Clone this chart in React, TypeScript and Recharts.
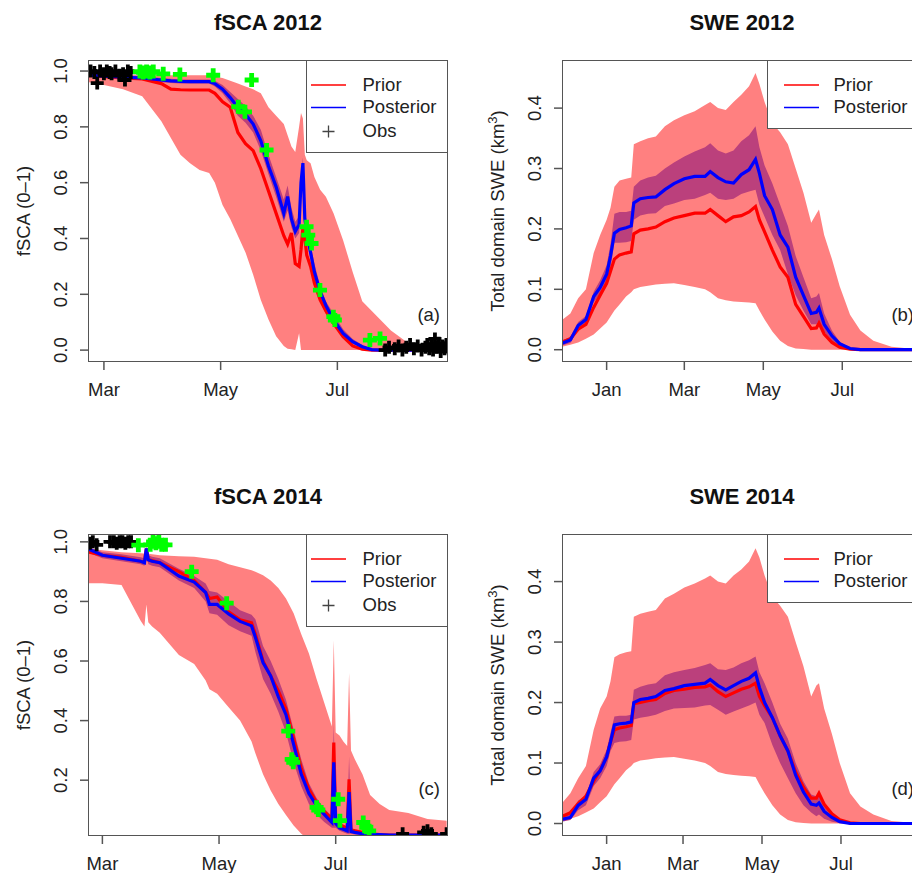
import React from 'react';
import { ComposedChart, Area, Line, Scatter, XAxis, YAxis } from 'recharts';

const FONT = '"Liberation Sans", Arial, Helvetica, sans-serif';
const PRIOR_BAND = '#FF8080';
const POST_BAND = '#BB407C';
const AXIS = '#555';

// ---- fSCA 2012 (days since 1 Mar) ----
const dayA = [
  -8, 0, 10, 20, 30, 35, 40, 45, 50, 55,
  58, 62, 66, 70, 74, 78, 82, 86, 90, 94,
  96, 98, 100, 102, 103, 104, 105, 106, 108, 110,
  113, 116, 120, 125, 130, 135, 140, 145, 150, 160,
  170, 179,
];
const priorLoA = [
  0.96, 0.95, 0.935, 0.91, 0.82, 0.76, 0.70, 0.67, 0.645, 0.635,
  0.60, 0.52, 0.47, 0.41, 0.35, 0.27, 0.18, 0.11, 0.05, 0.015,
  0.005, 0.003, 0, 0.06, 0, 0, 0, 0, 0, 0,
  0, 0, 0, 0, 0, 0, 0, 0, 0, 0,
  0, 0,
];
const priorHiA = [
  0.985, 0.985, 0.985, 0.985, 0.985, 0.985, 0.985, 0.985, 0.985, 0.985,
  0.98, 0.975, 0.965, 0.955, 0.945, 0.935, 0.92, 0.87, 0.84, 0.81,
  0.77, 0.73, 0.71, 0.80, 0.85, 0.83, 0.70, 0.68, 0.67, 0.62,
  0.575, 0.55, 0.49, 0.394, 0.28, 0.175, 0.14, 0.105, 0.07, 0.02,
  0.01, 0.006,
];
const priorA = [
  0.985, 0.98, 0.975, 0.972, 0.955, 0.935, 0.933, 0.932, 0.932, 0.932,
  0.92, 0.89, 0.87, 0.78, 0.74, 0.715, 0.65, 0.57, 0.49, 0.41,
  0.38, 0.42, 0.31, 0.30, 0.36, 0.44, 0.40, 0.34, 0.30, 0.24,
  0.18, 0.14, 0.096, 0.048, 0.015, 0.003, 0, 0, 0, 0,
  0, 0,
];
const postLoA = [
  0.98, 0.976, 0.97, 0.968, 0.96, 0.957, 0.955, 0.955, 0.955, 0.955,
  0.945, 0.92, 0.885, 0.84, 0.815, 0.78, 0.715, 0.63, 0.55, 0.46,
  0.5, 0.44, 0.4, 0.42, 0.55, 0.63, 0.44, 0.39, 0.32, 0.25,
  0.175, 0.13, 0.09, 0.048, 0.022, 0.008, 0, 0, 0, 0,
  0, 0,
];
const postHiA = [
  0.99, 0.988, 0.985, 0.982, 0.975, 0.972, 0.97, 0.97, 0.97, 0.97,
  0.965, 0.95, 0.925, 0.9, 0.875, 0.84, 0.79, 0.7, 0.62, 0.54,
  0.59, 0.51, 0.46, 0.48, 0.62, 0.69, 0.5, 0.45, 0.38, 0.31,
  0.23, 0.175, 0.13, 0.075, 0.04, 0.018, 0.005, 0.002, 0.001, 0,
  0, 0,
];
const postA = [
  0.985, 0.982, 0.978, 0.975, 0.968, 0.965, 0.963, 0.962, 0.962, 0.962,
  0.955, 0.935, 0.905, 0.87, 0.845, 0.81, 0.75, 0.66, 0.585, 0.49,
  0.55, 0.47, 0.425, 0.45, 0.60, 0.67, 0.47, 0.42, 0.35, 0.28,
  0.21, 0.16, 0.108, 0.06, 0.03, 0.012, 0.002, 0, 0, 0,
  0, 0,
];
const obsDayA = [
  -7, -5, -3.5, -2, 0, 1.5, 3, 4, 6, 8, 10, 11, 12.5, 14,
  147, 149, 152, 154, 156, 158, 160, 162, 164, 166,
  168, 169, 170, 171, 172, 173, 174, 175, 176, 177, 178, 179,
];
const obsValA = [
  1.0, 0.995, 0.957, 1.0, 0.99, 1.0, 0.995, 0.99, 1.0, 0.985, 0.99, 0.968, 1.0, 0.995,
  0.0, 0.01, 0.005, 0.015, 0.0, 0.01, 0.02, 0.005, 0.015, 0.0,
  0.01, 0.02, 0.005, 0.015, 0.0, 0.04, 0.01, 0.025, -0.005, 0.015, 0.005, 0.02,
];
const greenDayA = [18.8, 20.5, 22.3, 24, 25.8, 31, 39.7, 57.1, 70.2, 73.7, 77.2, 85, 105.9, 106.8, 108.5, 112.9, 119.9, 120.7, 139, 144.3];
const greenValA = [0.998, 0.995, 0.998, 0.995, 0.998, 0.99, 0.988, 0.985, 0.872, 0.854, 0.968, 0.717, 0.442, 0.412, 0.382, 0.215, 0.12, 0.108, 0.036, 0.042];

// ---- fSCA 2014 (days since 1 Mar) ----
const dayC = [
  -8, 0, 10, 20, 22, 23, 24, 26, 30, 40,
  48, 54, 56, 60, 66, 72, 78, 80, 84, 88,
  92, 96, 100, 104, 108, 112, 116, 120, 121, 122,
  124, 126, 128, 129, 130, 132, 136, 140, 145, 150,
  160, 170, 180,
];
const priorHiC = [
  0.978, 0.972, 0.965, 0.962, 0.961, 0.961, 0.96, 0.958, 0.955, 0.952,
  0.95, 0.945, 0.943, 0.94, 0.925, 0.915, 0.905, 0.90, 0.888, 0.87,
  0.845, 0.81, 0.76, 0.69, 0.625, 0.54, 0.46, 0.38, 0.67, 0.36,
  0.35, 0.33, 0.315, 0.56, 0.3, 0.27, 0.22, 0.15, 0.12, 0.10,
  0.09, 0.07, 0.064,
];
const priorLoC = [
  0.861, 0.861, 0.855, 0.735, 0.716, 0.79, 0.73, 0.716, 0.695, 0.62,
  0.59, 0.535, 0.505, 0.49, 0.445, 0.40, 0.33, 0.29, 0.22, 0.165,
  0.12, 0.083, 0.048, 0.02, 0, 0, 0, 0, 0, 0,
  0, 0, 0, 0, 0, 0, 0, 0, 0, 0,
  0, 0, 0,
];
const priorC = [
  0.967, 0.955, 0.948, 0.935, 0.933, 0.978, 0.94, 0.937, 0.93, 0.9,
  0.87, 0.83, 0.81, 0.815, 0.765, 0.738, 0.728, 0.69, 0.6, 0.55,
  0.5, 0.44, 0.34, 0.24, 0.17, 0.125, 0.095, 0.07, 0.326, 0.065,
  0.05, 0.045, 0.036, 0.203, 0.035, 0.03, 0.025, 0.02, 0.017, 0.016,
  0.016, 0.016, 0.016,
];
const postC = [
  0.978, 0.955, 0.945, 0.935, 0.93, 0.978, 0.94, 0.935, 0.93, 0.885,
  0.865, 0.83, 0.79, 0.79, 0.758, 0.733, 0.718, 0.68, 0.595, 0.55,
  0.48, 0.42, 0.32, 0.22, 0.155, 0.115, 0.085, 0.058, 0.26, 0.055,
  0.04, 0.035, 0.03, 0.16, 0.028, 0.025, 0.02, 0.018, 0.017, 0.016,
  0.016, 0.016, 0.016,
];
const postHiC = [
  0.985, 0.965, 0.958, 0.948, 0.945, 0.985, 0.955, 0.95, 0.945, 0.91,
  0.885, 0.86, 0.835, 0.83, 0.8, 0.77, 0.755, 0.74, 0.65, 0.6,
  0.54, 0.47, 0.37, 0.27, 0.19, 0.14, 0.105, 0.08, 0.39, 0.075,
  0.06, 0.05, 0.045, 0.28, 0.04, 0.035, 0.028, 0.022, 0.018, 0.017,
  0.017, 0.017, 0.017,
];
const postLoC = [
  0.965, 0.945, 0.935, 0.925, 0.92, 0.96, 0.925, 0.92, 0.915, 0.87,
  0.845, 0.8, 0.76, 0.755, 0.72, 0.7, 0.685, 0.63, 0.54, 0.49,
  0.43, 0.36, 0.26, 0.18, 0.12, 0.085, 0.06, 0.04, 0.04, 0.04,
  0.03, 0.025, 0.02, 0.02, 0.02, 0.018, 0.016, 0.015, 0.015, 0.015,
  0.015, 0.015, 0.015,
];
const obsDayC = [-6.5, -5, -3, 4, 6, 7.5, 9, 10.5, 12, 13.5, 15, 157, 168, 170, 172, 180];
const obsValC = [0.995, 1.0, 0.99, 1.0, 1.0, 0.995, 1.0, 1.0, 0.995, 1.0, 1.0, 0.02, 0.025, 0.03, 0.02, 0.02];
const greenDayC = [18.8, 25, 26.5, 28, 29.5, 31, 33, 46.7, 65, 97.2, 99, 99.8, 112, 112.9, 123.3, 124.2, 136.4, 138, 139.5];
const greenValC = [0.989, 0.99, 1.0, 0.995, 1.0, 0.99, 0.99, 0.90, 0.794, 0.365, 0.27, 0.26, 0.109, 0.1, 0.136, 0.064, 0.058, 0.042, 0.03];

// ---- SWE (days since 1 Jan) ----
const daySwe = [
  -34, -28, -22, -16, -10, -5, 0, 3, 6, 10,
  15, 19, 21, 26, 32, 38, 45, 52, 60, 68,
  76, 80, 86, 92, 98, 104, 110, 115, 118, 122,
  128, 134, 140, 146, 152, 158, 162, 164, 168, 174,
  180, 188, 196, 206, 220, 243,
];
const priorLoB = [
  0.005, 0.008, 0.012, 0.018, 0.025, 0.035, 0.045, 0.055, 0.065, 0.075,
  0.088, 0.095, 0.10, 0.104, 0.106, 0.108, 0.109, 0.11, 0.107, 0.104,
  0.10, 0.095, 0.085, 0.082, 0.08, 0.079, 0.078, 0.077, 0.065, 0.05,
  0.03, 0.015, 0.006, 0.002, 0.001, 0, 0, 0, 0, 0,
  0, 0, 0, 0, 0, 0,
];
const priorHiB = [
  0.05, 0.06, 0.085, 0.10, 0.16, 0.19, 0.215, 0.235, 0.27, 0.28,
  0.283, 0.285, 0.34, 0.345, 0.35, 0.353, 0.37, 0.38, 0.388, 0.395,
  0.405, 0.41, 0.40, 0.397, 0.41, 0.422, 0.436, 0.458, 0.44, 0.41,
  0.375, 0.36, 0.34, 0.30, 0.26, 0.21, 0.225, 0.232, 0.19, 0.15,
  0.105, 0.058, 0.032, 0.015, 0.005, 0,
];
const priorB = [
  0.013, 0.018, 0.034, 0.042, 0.07, 0.09, 0.11, 0.13, 0.15, 0.157,
  0.16, 0.162, 0.192, 0.198, 0.2, 0.203, 0.212, 0.218, 0.222, 0.226,
  0.226, 0.232, 0.222, 0.212, 0.22, 0.222, 0.228, 0.237, 0.215, 0.195,
  0.165, 0.137, 0.12, 0.075, 0.055, 0.035, 0.036, 0.044, 0.026, 0.012,
  0.004, 0.001, 0, 0, 0, 0,
];
const postB = [
  0.011, 0.016, 0.04, 0.05, 0.088, 0.103, 0.125, 0.155, 0.193, 0.199,
  0.202, 0.205, 0.243, 0.25, 0.252, 0.253, 0.265, 0.275, 0.283, 0.287,
  0.287, 0.295, 0.285, 0.278, 0.276, 0.29, 0.298, 0.315, 0.292, 0.255,
  0.232, 0.19, 0.17, 0.12, 0.09, 0.06, 0.062, 0.069, 0.042, 0.023,
  0.01, 0.002, 0, 0, 0, 0,
];
const postHiB = [
  0.016, 0.021, 0.046, 0.056, 0.096, 0.115, 0.14, 0.175, 0.225, 0.228,
  0.228, 0.23, 0.27, 0.28, 0.285, 0.288, 0.30, 0.31, 0.32, 0.328,
  0.335, 0.342, 0.33, 0.325, 0.33, 0.345, 0.355, 0.37, 0.335, 0.305,
  0.275, 0.24, 0.205, 0.155, 0.12, 0.085, 0.088, 0.094, 0.06, 0.032,
  0.013, 0.003, 0, 0, 0, 0,
];
const postLoB = [
  0.007, 0.011, 0.034, 0.044, 0.078, 0.092, 0.11, 0.135, 0.177, 0.177,
  0.178, 0.18, 0.215, 0.222, 0.225, 0.226, 0.238, 0.242, 0.248, 0.25,
  0.256, 0.26, 0.25, 0.248, 0.25, 0.258, 0.262, 0.265, 0.24, 0.22,
  0.19, 0.165, 0.125, 0.09, 0.065, 0.042, 0.042, 0.048, 0.03, 0.014,
  0.005, 0.001, 0, 0, 0, 0,
];
const priorLoD = [
  0.005, 0.008, 0.012, 0.018, 0.025, 0.035, 0.045, 0.055, 0.065, 0.075,
  0.088, 0.095, 0.10, 0.104, 0.106, 0.108, 0.109, 0.11, 0.107, 0.104,
  0.10, 0.095, 0.085, 0.082, 0.08, 0.079, 0.078, 0.077, 0.065, 0.05,
  0.03, 0.015, 0.006, 0.002, 0.001, 0, 0, 0, 0, 0,
  0, 0, 0, 0, 0, 0,
];
const priorHiD = [
  0.035, 0.05, 0.075, 0.095, 0.155, 0.19, 0.21, 0.235, 0.275, 0.28,
  0.283, 0.285, 0.342, 0.347, 0.35, 0.353, 0.372, 0.38, 0.39, 0.397,
  0.405, 0.41, 0.40, 0.397, 0.41, 0.42, 0.433, 0.455, 0.44, 0.41,
  0.375, 0.36, 0.342, 0.30, 0.26, 0.21, 0.228, 0.232, 0.19, 0.148,
  0.10, 0.05, 0.028, 0.015, 0.004, 0,
];
const priorD = [
  0.012, 0.018, 0.033, 0.045, 0.07, 0.088, 0.11, 0.135, 0.155, 0.158,
  0.16, 0.162, 0.198, 0.2, 0.203, 0.205, 0.215, 0.22, 0.222, 0.225,
  0.226, 0.229, 0.218, 0.21, 0.216, 0.222, 0.226, 0.232, 0.21, 0.195,
  0.175, 0.145, 0.12, 0.085, 0.06, 0.042, 0.042, 0.05, 0.032, 0.016,
  0.006, 0.001, 0, 0, 0, 0,
];
const postD = [
  0.007, 0.01, 0.03, 0.04, 0.075, 0.087, 0.11, 0.135, 0.163, 0.165,
  0.166, 0.168, 0.2, 0.205, 0.207, 0.21, 0.22, 0.223, 0.228, 0.23,
  0.232, 0.238, 0.228, 0.221, 0.228, 0.235, 0.24, 0.249, 0.225, 0.2,
  0.175, 0.145, 0.12, 0.08, 0.052, 0.032, 0.03, 0.034, 0.02, 0.01,
  0.003, 0, 0, 0, 0, 0,
];
const postHiD = [
  0.012, 0.016, 0.038, 0.046, 0.085, 0.098, 0.122, 0.15, 0.177, 0.178,
  0.178, 0.18, 0.221, 0.226, 0.23, 0.232, 0.245, 0.25, 0.254, 0.257,
  0.262, 0.265, 0.255, 0.254, 0.258, 0.265, 0.27, 0.276, 0.25, 0.232,
  0.2, 0.165, 0.14, 0.1, 0.07, 0.048, 0.045, 0.05, 0.03, 0.015,
  0.006, 0.001, 0, 0, 0, 0,
];
const postLoD = [
  0.003, 0.006, 0.022, 0.03, 0.062, 0.075, 0.095, 0.12, 0.133, 0.135,
  0.136, 0.138, 0.172, 0.175, 0.177, 0.18, 0.186, 0.19, 0.191, 0.192,
  0.195, 0.196, 0.188, 0.18, 0.185, 0.19, 0.195, 0.2, 0.18, 0.166,
  0.13, 0.1, 0.075, 0.05, 0.03, 0.018, 0.012, 0.015, 0.008, 0.003,
  0.001, 0, 0, 0, 0, 0,
];

const fscaTicks = [0, 61, 122];
const fscaLabels = ['Mar', 'May', 'Jul'];
const swe12Ticks = [0, 60, 121, 182];
const swe14Ticks = [0, 59, 120, 181];
const sweLabels = ['Jan', 'Mar', 'May', 'Jul'];
const fscaYTicks = [0, 0.2, 0.4, 0.6, 0.8, 1.0];
const fsca14YTicks = [0.2, 0.4, 0.6, 0.8, 1.0];
const sweYTicks = [0, 0.1, 0.2, 0.3, 0.4];

function buildRows(days: number[], pLo: number[], pHi: number[], qLo: number[], qHi: number[], p: number[], q: number[]) {
  return days.map((d, i) => ({ d, pb: [pLo[i], pHi[i]], qb: [qLo[i], qHi[i]], p: p[i], q: q[i] }));
}
function buildPoints(days: number[], vals: number[]) {
  return days.map((d, i) => ({ d, v: vals[i] }));
}

// chart geometry (same for every panel)
const CW = 460;
const CH = 420;
const PL = 89;
const PT = 61;
const PW = 358;
const PH = 300;

const plus = (color: string, w: number, r: number) => (props: any) => {
  const { cx, cy } = props;
  if (cx == null || cy == null) return <g />;
  return <path d={`M${cx - r},${cy}H${cx + r}M${cx},${cy - r}V${cy + r}`} stroke={color} strokeWidth={w} fill="none" />;
};

const yTick = (p: any) => {
  const bx = p.x - 11;
  return (
    <text x={bx} y={p.y} transform={`rotate(-90 ${bx} ${p.y})`} textAnchor="middle" fontSize={18.5} fill="#222" fontFamily={FONT}>
      {Number(p.payload.value).toFixed(1)}
    </text>
  );
};

const xTick = (ticks: number[], labels: string[]) => (p: any) => (
  <text x={p.x} y={p.y + 24} textAnchor="middle" fontSize={18.5} fill="#222" fontFamily={FONT}>
    {labels[ticks.indexOf(p.payload.value)]}
  </text>
);

interface LegendBox {
  width: number;
  height: number;
  lineX: number;
  textX: number;
  obs: boolean;
}

function LegendHtml({ left, top, box }: { left: number; top: number; box: LegendBox }) {
  const rows = [
    { label: 'Prior', kind: 'line', color: '#FF0000' },
    { label: 'Posterior', kind: 'line', color: '#0000FF' },
  ];
  if (box.obs) rows.push({ label: 'Obs', kind: 'plus', color: '#444' });
  const centers = [25, 47.5, 71.5];
  return (
    <div
      style={{
        position: 'absolute',
        left,
        top,
        width: box.width,
        height: box.height,
        border: `1.5px solid ${AXIS}`,
        boxSizing: 'border-box',
        background: '#fff',
      }}
    >
      <svg width={box.width} height={box.height} style={{ position: 'absolute', left: -1.5, top: -1.5 }}>
        {rows.map((r, i) =>
          r.kind === 'line' ? (
            <line key={r.label} x1={box.lineX} x2={box.lineX + 35} y1={centers[i]} y2={centers[i]} stroke={r.color} strokeWidth={1.3} />
          ) : (
            <path
              key={r.label}
              d={`M${box.lineX + 11.5},${centers[i]}h12M${box.lineX + 17.5},${centers[i] - 6}v12`}
              stroke={r.color}
              strokeWidth={1.3}
              fill="none"
            />
          ),
        )}
      </svg>
      {rows.map((r, i) => (
        <div
          key={r.label}
          style={{
            position: 'absolute',
            left: box.textX - 1.5,
            top: centers[i] - 11 - 1.5,
            lineHeight: '22px',
            fontSize: 18.5,
            color: '#222',
            whiteSpace: 'nowrap',
          }}
        >
          {r.label}
        </div>
      ))}
    </div>
  );
}

interface PanelProps {
  left: number;
  top: number;
  title: string;
  yLabel: React.ReactNode;
  tag: string;
  rows: any[];
  black?: { d: number; v: number }[];
  green?: { d: number; v: number }[];
  xDomain: [number, number];
  xTicks: number[];
  xLabels: string[];
  yDomain: [number, number];
  yTicks: number[];
  legend: LegendBox;
}

function Panel(props: PanelProps) {
  const { left, top, rows, legend } = props;
  return (
    <>
      <div style={{ position: 'absolute', left, top, width: CW, height: CH }}>
        <ComposedChart width={CW} height={CH} data={rows} margin={{ top: PT, right: CW - PL - PW, bottom: 0, left: 0 }}>
          <XAxis
            type="number"
            dataKey="d"
            domain={props.xDomain}
            allowDataOverflow
            ticks={props.xTicks}
            interval={0}
            height={CH - PT - PH}
            axisLine={false}
            tickSize={9}
            tickMargin={2}
            tickLine={{ stroke: AXIS, strokeWidth: 1.5 }}
            tick={xTick(props.xTicks, props.xLabels)}
          />
          <YAxis
            type="number"
            domain={props.yDomain}
            allowDataOverflow
            ticks={props.yTicks}
            interval={0}
            width={PL}
            axisLine={false}
            tickSize={9}
            tickMargin={2}
            tickLine={{ stroke: AXIS, strokeWidth: 1.5 }}
            tick={yTick}
          />
          <Area type="linear" dataKey="pb" stroke="none" fill={PRIOR_BAND} fillOpacity={1} isAnimationActive={false} />
          <Area type="linear" dataKey="qb" stroke="none" fill={POST_BAND} fillOpacity={1} isAnimationActive={false} />
          <Line type="linear" dataKey="p" stroke="#FF0000" strokeWidth={3.2} dot={false} activeDot={false} isAnimationActive={false} />
          <Line type="linear" dataKey="q" stroke="#0000FF" strokeWidth={3.2} dot={false} activeDot={false} isAnimationActive={false} />
          {props.black && (
            <Scatter data={props.black} dataKey="v" fill="#000" shape={plus('#000', 3.8, 6.5)} isAnimationActive={false} />
          )}
          {props.green && (
            <Scatter data={props.green} dataKey="v" fill="#00FF00" shape={plus('#00FF00', 4.8, 7)} isAnimationActive={false} />
          )}
        </ComposedChart>
      </div>
      <div
        style={{
          position: 'absolute',
          left: left + PL - 1,
          top: top + PT - 1,
          width: PW + 2,
          height: PH + 2,
          border: `1.6px solid ${AXIS}`,
          boxSizing: 'border-box',
          pointerEvents: 'none',
        }}
      />
      <LegendHtml left={left + PL + PW - legend.width + 1} top={top + PT - 1} box={legend} />
      <div
        style={{
          position: 'absolute',
          left: left + PL,
          width: PW,
          top: top + 10,
          textAlign: 'center',
          fontWeight: 'bold',
          fontSize: 22,
          lineHeight: '26px',
          color: '#111',
        }}
      >
        {props.title}
      </div>
      <div
        style={{
          position: 'absolute',
          left: left + 24,
          top: top + PT + PH / 2,
          transform: 'translate(-50%, -50%) rotate(-90deg)',
          fontSize: 18.5,
          lineHeight: '22px',
          whiteSpace: 'nowrap',
          color: '#222',
        }}
      >
        {props.yLabel}
      </div>
      <div
        style={{
          position: 'absolute',
          left: left + PL,
          width: PW - 7,
          top: top + PT + 254 - 11,
          textAlign: 'right',
          fontSize: 18.5,
          lineHeight: '22px',
          color: '#222',
        }}
      >
        {props.tag}
      </div>
    </>
  );
}

const sweLabel = (
  <span>
    Total domain SWE (km<sup style={{ fontSize: 13, verticalAlign: 'super', lineHeight: 0 }}>3</sup>)
  </span>
);

export default function App() {
  const rowsA = buildRows(dayA, priorLoA, priorHiA, postLoA, postHiA, priorA, postA);
  const rowsB = buildRows(daySwe, priorLoB, priorHiB, postLoB, postHiB, priorB, postB);
  const rowsC = buildRows(dayC, priorLoC, priorHiC, postLoC, postHiC, priorC, postC);
  const rowsD = buildRows(daySwe, priorLoD, priorHiD, postLoD, postHiD, priorD, postD);
  const fscaLegend: LegendBox = { width: 142, height: 93, lineX: 5, textX: 57, obs: true };
  const sweLegend: LegendBox = { width: 155, height: 69, lineX: 17, textX: 67, obs: false };

  return (
    <div
      style={{
        position: 'absolute',
        left: 0,
        top: 0,
        width: 912,
        height: 873,
        overflow: 'hidden',
        background: '#fff',
        fontFamily: FONT,
      }}
    >
      <Panel
        left={0}
        top={0}
        title="fSCA 2012"
        yLabel="fSCA (0–1)"
        tag="(a)"
        rows={rowsA}
        black={buildPoints(obsDayA, obsValA)}
        green={buildPoints(greenDayA, greenValA)}
        xDomain={[-7.8, 179.3]}
        xTicks={fscaTicks}
        xLabels={fscaLabels}
        yDomain={[-0.039, 1.036]}
        yTicks={fscaYTicks}
        legend={fscaLegend}
      />
      <Panel
        left={474}
        top={0}
        title="SWE 2012"
        yLabel={sweLabel}
        tag="(b)"
        rows={rowsB}
        xDomain={[-33.7, 242.8]}
        xTicks={swe12Ticks}
        xLabels={sweLabels}
        yDomain={[-0.0187, 0.478]}
        yTicks={sweYTicks}
        legend={sweLegend}
      />
      <Panel
        left={0}
        top={474}
        title="fSCA 2014"
        yLabel="fSCA (0–1)"
        tag="(c)"
        rows={rowsC}
        black={buildPoints(obsDayC, obsValC)}
        green={buildPoints(greenDayC, greenValC)}
        xDomain={[-7, 180.2]}
        xTicks={fscaTicks}
        xLabels={fscaLabels}
        yDomain={[0.016, 1.023]}
        yTicks={fsca14YTicks}
        legend={fscaLegend}
      />
      <Panel
        left={474}
        top={474}
        title="SWE 2014"
        yLabel={sweLabel}
        tag="(d)"
        rows={rowsD}
        xDomain={[-33.7, 242.8]}
        xTicks={swe14Ticks}
        xLabels={sweLabels}
        yDomain={[-0.019, 0.477]}
        yTicks={sweYTicks}
        legend={sweLegend}
      />
    </div>
  );
}
